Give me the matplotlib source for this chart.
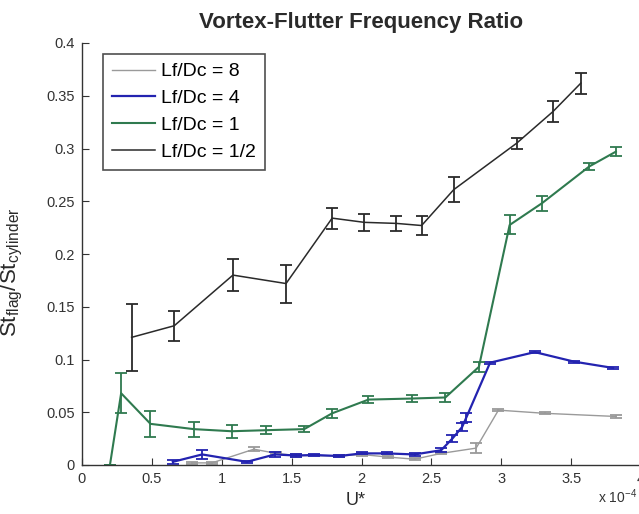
import matplotlib
matplotlib.use("Agg")
import matplotlib.pyplot as plt

plt.rcParams['font.family'] = ['Liberation Sans', 'DejaVu Sans']

# Lf/Dc = 1/2
x_half = [0.355, 0.66, 1.08, 1.46, 1.79, 2.02, 2.25, 2.43, 2.66, 3.11, 3.37, 3.57]
y_half = [0.121, 0.132, 0.180, 0.172, 0.234, 0.230, 0.229, 0.227, 0.261, 0.305, 0.335, 0.362]
e_half = [0.032, 0.014, 0.015, 0.018, 0.010, 0.008, 0.007, 0.009, 0.012, 0.005, 0.010, 0.010]

# Lf/Dc = 1
x_one = [0.2, 0.28, 0.49, 0.80, 1.07, 1.32, 1.59, 1.79, 2.05, 2.36, 2.60, 2.84, 3.06, 3.29, 3.63, 3.82]
y_one = [0.0, 0.068, 0.039, 0.034, 0.032, 0.033, 0.034, 0.049, 0.062, 0.063, 0.064, 0.093, 0.2275, 0.248, 0.283, 0.297]
e_one = [0.0, 0.019, 0.012, 0.007, 0.006, 0.004, 0.003, 0.004, 0.003, 0.003, 0.004, 0.005, 0.009, 0.007, 0.003, 0.004]

# Lf/Dc = 4
x_four = [0.65, 0.86, 1.18, 1.38, 1.53, 1.66, 1.84, 2.0, 2.18, 2.38, 2.57, 2.65, 2.72, 2.75, 2.92, 3.24, 3.52, 3.80]
y_four = [0.003, 0.010, 0.003, 0.010, 0.009, 0.0095, 0.0085, 0.011, 0.011, 0.010, 0.014, 0.025, 0.036, 0.045, 0.097, 0.107, 0.098, 0.092]
e_four = [0.002, 0.004, 0.001, 0.002, 0.001, 0.001, 0.001, 0.001, 0.001, 0.001, 0.002, 0.003, 0.004, 0.004, 0.001, 0.001, 0.001, 0.001]

# Lf/Dc = 8
x_eight = [0.79, 0.93, 1.23, 1.39, 1.53, 1.84, 2.0, 2.19, 2.38, 2.57, 2.82, 2.98, 3.31, 3.82]
y_eight = [0.002, 0.002, 0.015, 0.011, 0.009, 0.0085, 0.010, 0.0075, 0.0055, 0.011, 0.016, 0.052, 0.049, 0.046]
e_eight = [0.001, 0.001, 0.002, 0.001, 0.001, 0.001, 0.001, 0.001, 0.001, 0.001, 0.005, 0.001, 0.001, 0.001]

labels = ['Lf/Dc = 8', 'Lf/Dc = 4', 'Lf/Dc = 1', 'Lf/Dc = 1/2']
x_ticks = [0, 0.5, 1, 1.5, 2, 2.5, 3, 3.5, 4]
x_ticklabels = ['0', '0.5', '1', '1.5', '2', '2.5', '3', '3.5', '4']
y_ticks = [0, 0.05, 0.1, 0.15, 0.2, 0.25, 0.3, 0.35, 0.4]
y_ticklabels = ['0', '0.05', '0.1', '0.15', '0.2', '0.25', '0.3', '0.35', '0.4']

W, H = 639, 514
fig = plt.figure(figsize=(W / 100, H / 100), dpi=100)
ax = fig.add_axes([82 / W, (H - 465) / H, (641 - 82) / W, (465 - 43) / H])

series = [
    (x_eight, y_eight, e_eight, '#9a9a9a', 1.0),
    (x_four, y_four, e_four, '#2323b0', 1.6),
    (x_one, y_one, e_one, '#2f7a4f', 1.5),
    (x_half, y_half, e_half, '#2a2a2a', 1.1),
]
for (xs, ys, es, col, lw), lab in zip(series, labels):
    ax.plot(xs, ys, color=col, lw=lw, label=lab)
    ax.errorbar(xs, ys, yerr=es, fmt='none', ecolor=col, elinewidth=1.3,
                capsize=4, capthick=1.3)

ax.set_xlim(0, 4)
ax.set_ylim(0, 0.4)
ax.set_xticks(x_ticks)
ax.set_xticklabels(x_ticklabels)
ax.set_yticks(y_ticks)
ax.set_yticklabels(y_ticklabels)
ax.tick_params(direction='in', length=5, labelsize=10.5, colors='#333333', pad=5)
for s in ['top', 'right']:
    ax.spines[s].set_visible(False)
for s in ['left', 'bottom']:
    ax.spines[s].set_color('#333333')
    ax.spines[s].set_linewidth(1.0)

ax.set_title('Vortex-Flutter Frequency Ratio', fontsize=16, fontweight='bold',
             color='#2a2a2a', pad=11)
ax.set_xlabel('U*', fontsize=13, color='#2a2a2a')
ax.xaxis.set_label_coords(0.49, -0.064)
ax.set_ylabel('St$_{\\mathregular{flag}}$/St$_{\\mathregular{cylinder}}$', fontsize=16, color='#2a2a2a')
ax.yaxis.set_label_coords(-0.102, 0.457)

fig.text(598 / W, 1 - 506 / H, 'x 10$^{\\mathregular{-4}}$', fontsize=10, color='#333333',
         ha='left', va='bottom')

leg = ax.legend(loc='upper left', bbox_to_anchor=(0.0376, 0.974), borderaxespad=0,
                fontsize=14, handlelength=2.2, handletextpad=0.35, borderpad=0.45,
                labelspacing=0.48, frameon=True, fancybox=False)
leg.get_frame().set_edgecolor('#222222')
leg.get_frame().set_linewidth(1.2)

fig.savefig('out.png', dpi=100)
